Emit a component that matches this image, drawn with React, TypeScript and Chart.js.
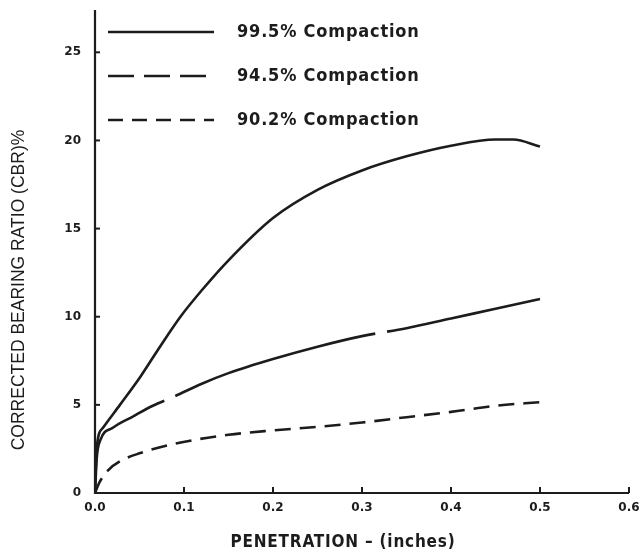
import React, { useEffect, useRef } from 'react';
import { Chart, registerables } from 'chart.js';

Chart.register(...registerables);

// ---- data ----
const xTickValues = [0, 0.1, 0.2, 0.3, 0.4, 0.5, 0.6];
const yTickValues = [0, 5, 10, 15, 20, 25];
const seriesNames = ['99.5% Compaction', '94.5% Compaction', '90.2% Compaction'];

const pen995 = [0, 0.002, 0.009, 0.028, 0.051, 0.073, 0.096, 0.12, 0.15, 0.2, 0.25, 0.3, 0.35, 0.4, 0.45, 0.47, 0.5];
const cbr995 = [0, 2.6, 3.7, 5.0, 6.6, 8.3, 10.0, 11.5, 13.2, 15.6, 17.2, 18.3, 19.1, 19.7, 20.05, 20.05, 19.65];

const pen945 = [0, 0.002, 0.006, 0.02, 0.043, 0.065, 0.088, 0.12, 0.15, 0.2, 0.25, 0.3, 0.35, 0.4, 0.45, 0.5];
const cbr945 = [0, 2.0, 3.0, 3.7, 4.35, 4.95, 5.45, 6.2, 6.8, 7.6, 8.3, 8.9, 9.35, 9.9, 10.45, 11.0];

const pen902 = [0, 0.005, 0.015, 0.03, 0.05, 0.09, 0.15, 0.2, 0.25, 0.3, 0.35, 0.4, 0.45, 0.5];
const cbr902 = [0, 0.6, 1.3, 1.85, 2.25, 2.8, 3.3, 3.55, 3.75, 4.0, 4.3, 4.6, 4.95, 5.15];

const xTitle = 'PENETRATION – (inches)';
const yTitle = 'CORRECTED BEARING RATIO (CBR)%';

// ---- styles ----
const INK = '#1c1c1c';
const COND = "'DejaVu Sans Condensed', 'Liberation Sans Narrow', 'DejaVu Sans'";
const curveDashes = [[], [210, 12], [16, 9]];
const legendDashes = [[], [26, 10], [15, 9]];

const toPoints = (xs: number[], ys: number[]) => xs.map((x, i) => ({ x, y: ys[i] }));

const decor = {
  id: 'decor',
  afterDraw(chart: any) {
    const ctx: CanvasRenderingContext2D = chart.ctx;
    const xs = chart.scales.x;
    const ys = chart.scales.y;
    const area = chart.chartArea;
    ctx.save();
    ctx.strokeStyle = INK;
    ctx.fillStyle = INK;
    ctx.lineCap = 'butt';

    // axes
    ctx.lineWidth = 2.2;
    ctx.beginPath();
    ctx.moveTo(area.left, area.top);
    ctx.lineTo(area.left, area.bottom);
    ctx.lineTo(area.right, area.bottom);
    ctx.stroke();

    // inward tick marks
    ctx.lineWidth = 2;
    xTickValues.forEach((v) => {
      if (v === 0) return;
      const px = xs.getPixelForValue(v);
      ctx.beginPath();
      ctx.moveTo(px, area.bottom);
      ctx.lineTo(px, area.bottom - 6);
      ctx.stroke();
    });
    yTickValues.forEach((v) => {
      if (v === 0) return;
      const py = ys.getPixelForValue(v);
      ctx.beginPath();
      ctx.moveTo(area.left, py);
      ctx.lineTo(area.left + 5, py);
      ctx.stroke();
    });

    // legend
    const rows = [32, 76, 120];
    ctx.lineWidth = 2.6;
    seriesNames.forEach((name, i) => {
      const y = rows[i];
      ctx.setLineDash(legendDashes[i]);
      ctx.beginPath();
      ctx.moveTo(108, y);
      ctx.lineTo(214, y);
      ctx.stroke();
      ctx.setLineDash([]);
      ctx.font = `bold 18px ${COND}`;
      (ctx as any).letterSpacing = '0.8px';
      ctx.textAlign = 'left';
      ctx.textBaseline = 'middle';
      ctx.fillText(name, 237, y);
    });

    // x title
    ctx.font = `bold 17px ${COND}`;
    (ctx as any).letterSpacing = '0.8px';
    ctx.textAlign = 'center';
    ctx.textBaseline = 'middle';
    ctx.fillText(xTitle, 343, 543);

    // y title
    (ctx as any).letterSpacing = '0px';
    ctx.translate(19, 290);
    ctx.rotate(-Math.PI / 2);
    ctx.font = "17.5px 'Liberation Sans', Arial, sans-serif";
    ctx.fillText(yTitle, 0, 0);
    ctx.restore();
  },
};

export default function App() {
  const ref = useRef<HTMLCanvasElement | null>(null);

  useEffect(() => {
    document.body.style.margin = '0';
    document.body.style.background = '#ffffff';
    const canvas = ref.current;
    if (!canvas) return;
    const series = [
      toPoints(pen995, cbr995),
      toPoints(pen945, cbr945),
      toPoints(pen902, cbr902),
    ];
    const chart = new Chart(canvas, {
      type: 'line',
      data: {
        datasets: series.map((pts, i) => ({
          label: seriesNames[i],
          data: pts,
          borderColor: INK,
          borderWidth: 2.6,
          borderDash: curveDashes[i],
          borderDashOffset: i === 1 ? 80 : 0,
          pointRadius: 0,
          fill: false,
          cubicInterpolationMode: 'monotone',
        })),
      },
      options: {
        responsive: false,
        animation: false,
        layout: { padding: { top: 10, right: 13, left: 0, bottom: 0 } },
        plugins: { legend: { display: false }, tooltip: { enabled: false } },
        scales: {
          x: {
            type: 'linear',
            min: 0,
            max: 0.6,
            grid: { display: false, drawTicks: false },
            border: { display: false },
            afterBuildTicks: (s: any) => {
              s.ticks = xTickValues.map((v) => ({ value: v }));
            },
            afterFit: (s: any) => {
              s.height = 62;
              s.paddingLeft = 0;
              s.paddingRight = 0;
            },
            ticks: {
              padding: 8,
              color: INK,
              maxRotation: 0,
              font: { family: "'DejaVu Sans'", weight: 'bold', size: 12 },
              callback: (v: any) => Number(v).toFixed(1),
            },
          },
          y: {
            type: 'linear',
            min: 0,
            max: 27.4,
            grid: { display: false, drawTicks: false },
            border: { display: false },
            afterBuildTicks: (s: any) => {
              s.ticks = yTickValues.map((v) => ({ value: v }));
            },
            afterFit: (s: any) => {
              s.width = 95;
              s.paddingTop = 0;
              s.paddingBottom = 0;
            },
            ticks: {
              padding: 14,
              color: INK,
              font: { family: "'DejaVu Sans'", weight: 'bold', size: 12 },
              callback: (v: any) => String(v),
            },
          },
        },
      },
      plugins: [decor],
    } as any);
    return () => chart.destroy();
  }, []);

  return (
    <div style={{ width: 642, height: 555, background: '#fff' }}>
      <canvas ref={ref} width={642} height={555} />
    </div>
  );
}
